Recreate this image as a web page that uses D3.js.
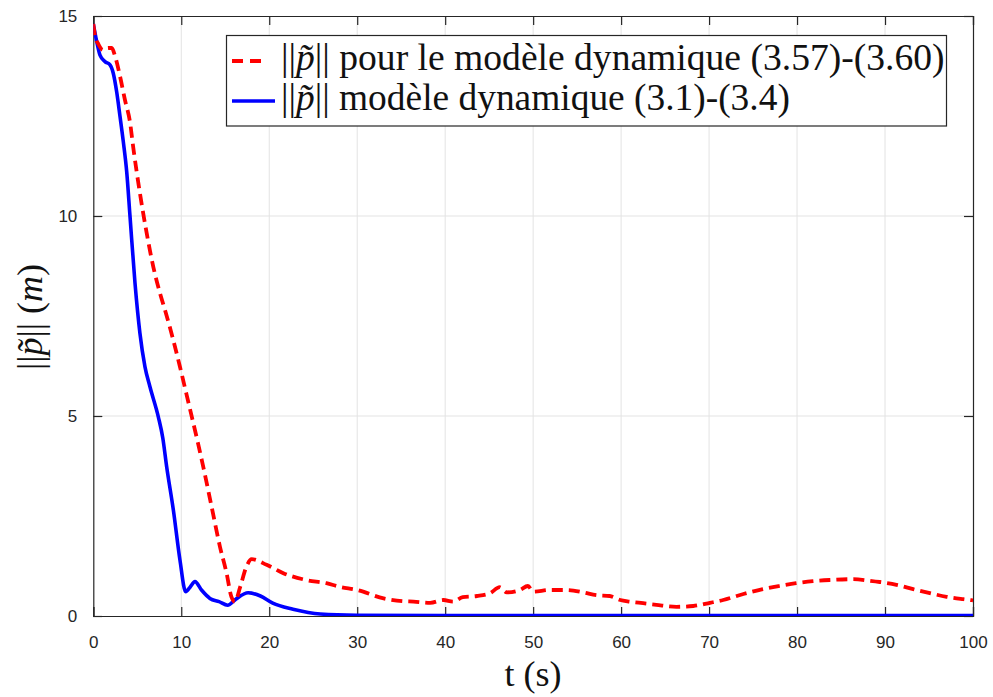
<!DOCTYPE html>
<html><head><meta charset="utf-8">
<script src="https://cdn.jsdelivr.net/npm/d3@7"></script>
<style>body{margin:0;background:#fff}svg{display:block}</style>
</head><body>
<svg id="c" width="993" height="697"></svg>
<script>
const xTicks = [0,10,20,30,40,50,60,70,80,90,100];
const yTicks = [0,5,10,15];
const legendLabels = [" pour le modèle dynamique (3.57)-(3.60)", " modèle dynamique (3.1)-(3.4)"];

const tBlue = [0,0.39,0.76,1.33,1.9,2.27,2.66,3.03,3.41,3.8,4.17,4.74,5.3,5.875,6.44,7.39,7.9,8.34,9.1,9.85,10.5,11.0,11.56,12.3,13.26,14.3,15.27,16.2,17.6,19,20.4,22.7,25.8,30,40,50,60,70,80,90,100];
const vBlue = [14.8,14.36,14.02,13.86,13.78,13.57,13.1,12.5,11.86,11.1,10.0,8.32,7.07,6.23,5.73,4.98,4.45,3.73,2.65,1.4,0.61,0.72,0.86,0.65,0.44,0.36,0.27,0.42,0.58,0.5,0.32,0.17,0.05,0.02,0.01,0.01,0.01,0.01,0.01,0.01,0.01];

const tRed = [0,0.2,0.57,1.1,1.7,2.1,2.47,3.03,3.6,4.17,4.55,5.3,6.07,6.82,7.58,8.15,9.09,9.85,10.8,11.9,12.5,13.45,14.4,15.15,15.7,16.1,16.7,17.4,18.0,19.7,21.6,24.2,26.5,28,30,33,35.2,36.4,38.3,39.8,40.9,42,43.6,45.1,46.2,47,48.5,49.4,50,51.9,53.8,55.7,57.2,58.7,59.9,61,62.5,64,66.3,68.2,70.1,71.6,73.9,76.1,78,79.9,81.8,83.7,86.4,88.3,89.4,91.3,93.2,95.1,97,98.9,100];
const vRed = [14.8,14.5,14.3,14.15,14.2,14.2,14.0,13.5,12.9,12.35,11.7,10.57,9.57,8.73,8.07,7.65,6.9,6.23,5.35,4.32,3.73,2.73,1.73,1.07,0.48,0.36,0.73,1.23,1.42,1.28,1.07,0.9,0.82,0.73,0.65,0.44,0.37,0.36,0.33,0.4,0.36,0.47,0.5,0.57,0.72,0.59,0.65,0.75,0.61,0.65,0.65,0.59,0.52,0.5,0.4,0.36,0.32,0.28,0.23,0.25,0.33,0.40,0.55,0.67,0.75,0.82,0.87,0.90,0.92,0.88,0.85,0.78,0.67,0.57,0.48,0.42,0.39];

const svg = d3.select("#c");
const L=93.3, R=973, T=16, B=616;
const x = d3.scaleLinear().domain([0,100]).range([L,R]);
const y = d3.scaleLinear().domain([0,15]).range([B,T]);
const serif = "'Liberation Serif','DejaVu Serif',serif";
const sans = "'Liberation Sans',Arial,sans-serif";

svg.append("defs").append("clipPath").attr("id","clip").append("rect")
  .attr("x",L).attr("y",T).attr("width",R-L).attr("height",B-T);

// grid
const g = svg.append("g");
g.selectAll(".gx").data(xTicks.slice(1,-1)).enter().append("line")
  .attr("x1",d=>x(d)).attr("x2",d=>x(d)).attr("y1",T).attr("y2",B)
  .attr("stroke","#e3e3e3").attr("stroke-width",1);
g.selectAll(".gy").data(yTicks.slice(1,-1)).enter().append("line")
  .attr("y1",d=>y(d)).attr("y2",d=>y(d)).attr("x1",L).attr("x2",R)
  .attr("stroke","#e3e3e3").attr("stroke-width",1);

// axes with inward ticks
const axB = d3.axisBottom(x).tickValues(xTicks).tickSize(-9).tickPadding(20).tickFormat(d3.format("d"));
const axT = d3.axisTop(x).tickValues(xTicks).tickSize(-9).tickFormat("");
const axL = d3.axisLeft(y).tickValues(yTicks).tickSize(-9).tickPadding(16).tickFormat(d3.format("d"));
const axR = d3.axisRight(y).tickValues(yTicks).tickSize(-9).tickFormat("");
function style(sel){
  sel.select(".domain").attr("stroke","#262626").attr("stroke-width",1.2);
  sel.selectAll(".tick line").attr("stroke","#262626").attr("stroke-width",1.2);
  sel.selectAll(".tick text").attr("fill","#262626").style("font-family",sans).style("font-size","17px");
}
svg.append("g").attr("transform",`translate(0,${B})`).call(axB).call(style);
svg.append("g").attr("transform",`translate(0,${T})`).call(axT).call(style);
svg.append("g").attr("transform",`translate(${L},0)`).call(axL).call(style);
svg.append("g").attr("transform",`translate(${R},0)`).call(axR).call(style);

// lines
const line = d3.line().x(d=>x(d[0])).y(d=>y(d[1])).curve(d3.curveMonotoneX);
const plot = svg.append("g").attr("clip-path","url(#clip)");
plot.append("path").datum(tBlue.map((t,i)=>[t,vBlue[i]])).attr("d",line)
  .attr("fill","none").attr("stroke","#0000ff").attr("stroke-width",3.6).attr("stroke-linejoin","round");
plot.append("path").datum(tRed.map((t,i)=>[t,vRed[i]])).attr("d",line)
  .attr("fill","none").attr("stroke","#ff0000").attr("stroke-width",3.8).attr("stroke-dasharray","11,6");

// legend
const lg = svg.append("g");
lg.append("rect").attr("x",226.5).attr("y",35.5).attr("width",720).attr("height",90.5)
  .attr("fill","#fff").attr("stroke","#262626").attr("stroke-width",1.2);
lg.append("line").attr("x1",232).attr("x2",268).attr("y1",61).attr("y2",61)
  .attr("stroke","#ff0000").attr("stroke-width",3.8).attr("stroke-dasharray","11,7");
lg.append("line").attr("x1",232).attr("x2",275).attr("y1",101).attr("y2",101)
  .attr("stroke","#0000ff").attr("stroke-width",3.6);
function normText(sel, label){
  sel.append("tspan").text("||");
  sel.append("tspan").attr("font-style","italic").text("p\u0303");
  sel.append("tspan").text("||");
  sel.append("tspan").text(label);
}
const targetW = [945-281, 790-281];
legendLabels.forEach((lab,i)=>{
  const t = lg.append("text").attr("x",281).attr("y",[70,110][i])
    .style("font-family",serif).style("font-size","28px").attr("fill","#111");
  normText(t, lab);
  const w = t.node().getComputedTextLength();
  t.style("font-size",(28*targetW[i]/w).toFixed(2)+"px");
});

// axis labels
svg.append("text").attr("x",533).attr("y",686).attr("text-anchor","middle")
  .style("font-family",serif).style("font-size","36px").attr("fill","#111").text("t (s)");
const yl = svg.append("text").attr("transform","translate(42,317) rotate(-90)").attr("text-anchor","middle")
  .style("font-family",serif).style("font-size","36px").attr("fill","#111");
yl.append("tspan").text("||");
yl.append("tspan").attr("font-style","italic").text("p\u0303");
yl.append("tspan").text("|| (");
yl.append("tspan").attr("font-style","italic").text("m");
yl.append("tspan").text(")");
</script>
</body></html>
